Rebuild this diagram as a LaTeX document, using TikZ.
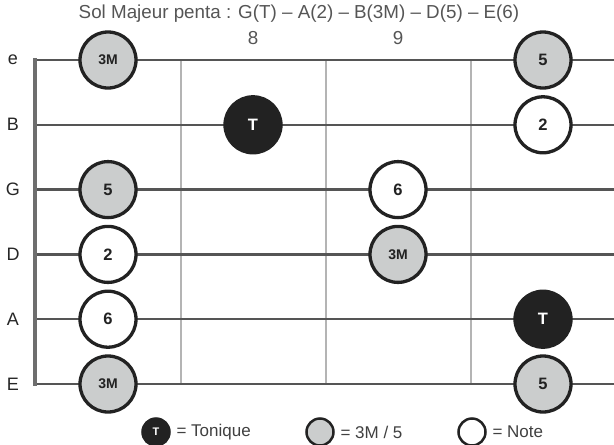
\documentclass[tikz,border=0pt]{standalone}
\usepackage{fontspec}
\setmainfont{Liberation Sans}
\usepackage{xcolor}
\usepackage{tikz}
\usetikzlibrary{positioning}

\definecolor{strcol}{HTML}{555555}
\definecolor{fretcol}{HTML}{B4B4B4}
\definecolor{nutcol}{HTML}{6E6E6E}
\definecolor{dotline}{HTML}{222222}
\definecolor{dotgray}{HTML}{CBCDCD}
\definecolor{txtgray}{HTML}{555555}

\begin{document}
\begin{tikzpicture}[x=1pt,y=-1pt,
	string/.style={draw=strcol,line width=2.4pt},
	fret/.style={draw=fretcol,line width=1.6pt},
	nut/.style={draw=nutcol,line width=4pt},
	dot/.style={circle,minimum size=56pt,inner sep=0pt,line width=3.3pt,draw=dotline,font=\fontsize{16.5}{16.5}\selectfont\bfseries},
	small/.style={font=\fontsize{14}{14}\selectfont\bfseries},
	tonic/.style={dot,fill=dotline,text=white},
	third/.style={dot,fill=dotgray,text=dotline},
	plain/.style={dot,fill=white,text=dotline},
	legdot/.style={circle,minimum size=27pt,inner sep=0pt,line width=2.5pt,draw=dotline},
	lbl/.style={font=\fontsize{18}{18}\selectfont,text=black!85},
	head/.style={font=\fontsize{18.8}{18.8}\selectfont,text=txtgray}]
	\useasboundingbox (0,0) rectangle (614,445);
	%
	%  TITLE AND FRET NUMBERS
	%
	\node[head] (title) at (299,14) {Sol Majeur penta : G(T) -- A(2) -- B(3M) -- D(5) -- E(6)};
	\node[head] (f8) at (253,38) {8};
	\node[head] (f9) at (398,38) {9};
	%
	%  STRINGS
	%
	\foreach \s/\y in {e/60,B/124.8,G/189.6,D/254.4,A/319.2,E/384} {
		\coordinate (\s0) at (35,\y);
		\coordinate (\s1) at (614,\y);
		\node[lbl] (n\s) at (13,\y) {\s};
	}
	\foreach \x [count=\i] in {181,326,471} {
		\coordinate (t\i) at (\x,60);
		\coordinate (b\i) at (\x,384);
	}
	\foreach \i in {1,2,3} \draw[fret] (t\i) -- (b\i);
	\foreach \s in {e,B,G,D,A,E} \draw[string] (\s0) -- (\s1);
	\draw[nut,line cap=rect] (e0) -- (E0);
	%
	%  NOTES
	%
	\node[third,small] (e3M) at (108,60) {3M};
	\node[third] (e5) at (543,60) {5};
	\node[tonic] (BT) at (253,124.8) {T};
	\node[plain] (B2) at (543,124.8) {2};
	\node[third] (G5) at (108,189.6) {5};
	\node[plain] (G6) at (398,189.6) {6};
	\node[plain] (D2) at (108,254.4) {2};
	\node[third,small] (D3M) at (398,254.4) {3M};
	\node[plain] (A6) at (108,319.2) {6};
	\node[tonic] (AT) at (543,319.2) {T};
	\node[third,small] (E3M) at (108,384) {3M};
	\node[third] (E5) at (543,384) {5};
	%
	%  LEGEND
	%
	\node[legdot,fill=dotline,text=white,font=\fontsize{11}{11}\selectfont\bfseries] (kT) at (156,432) {T};
	\node[lbl,anchor=west,text=black!75,font=\fontsize{17}{17}\selectfont] (kTt) at (173,432) {= Tonique};
	\node[legdot,fill=dotgray] (k3) at (320,432) {};
	\node[lbl,anchor=west,text=black!75,font=\fontsize{17}{17}\selectfont] (k3t) at (337,432) {= 3M / 5};
	\node[legdot,fill=white] (kN) at (472,432) {};
	\node[lbl,anchor=west,text=black!75,font=\fontsize{17}{17}\selectfont] (kNt) at (489,432) {= Note};
\end{tikzpicture}
\end{document}
